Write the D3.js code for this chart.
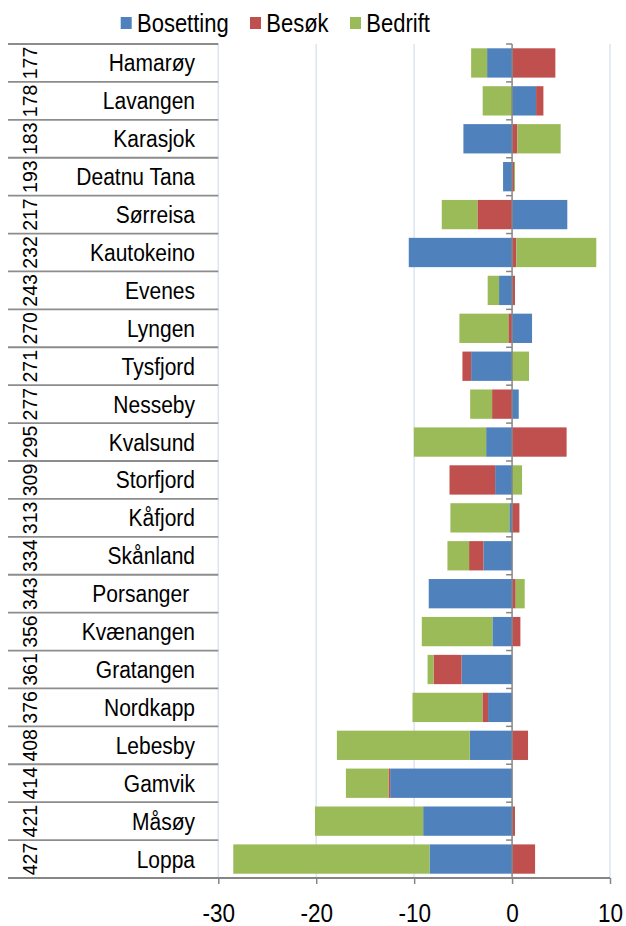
<!DOCTYPE html>
<html><head><meta charset="utf-8">
<script src="https://cdn.jsdelivr.net/npm/d3@7"></script>
<style>body{margin:0;background:#fff}svg{display:block;font-family:Arial,"Liberation Sans",sans-serif}</style>
</head><body>
<svg id="c" width="626" height="926"></svg>
<script>
const ranks = ["177","178","183","193","217","232","243","270","271","277","295","309","313","334","343","356","361","376","408","414","421","427"];
const categories = ["Hamarøy","Lavangen","Karasjok","Deatnu Tana","Sørreisa","Kautokeino","Evenes","Lyngen","Tysfjord","Nesseby","Kvalsund","Storfjord","Kåfjord","Skånland","Porsanger ","Kvænangen","Gratangen","Nordkapp","Lebesby","Gamvik","Måsøy","Loppa"];
const bosetting = [-2.55, 2.45, -4.97, -0.92, 5.64, -10.55, -1.33, 2.04, -4.18, 0.68, -2.65, -1.73, -0.28, -2.93, -8.51, -2.01, -5.16, -2.45, -4.32, -12.45, -9.08, -8.43];
const besok     = [4.42, 0.75, 0.54, 0.2, -3.54, 0.44, 0.3, -0.38, -0.89, -2.04, 5.57, -4.66, 0.75, -1.46, 0.37, 0.85, -2.86, -0.58, 1.63, -0.17, 0.3, 2.35];
const bedrift   = [-1.63, -3.0, 4.42, 0.1, -3.64, 8.16, -1.16, -5.0, 1.73, -2.24, -7.38, 1.02, -6.02, -2.21, 0.92, -7.21, -0.61, -7.14, -13.57, -4.35, -11.05, -20.04];
const seriesNames = ["Bosetting","Besøk","Bedrift"];
const seriesColors = ["#4f81bd","#c0504d","#9bbb59"];
const xTicks = [-30,-20,-10,0,10];

(function(){
const svg = d3.select("#c");
const pTop = 44, pBottom = 878, pLeft = 218.3, pRight = 610;
const sy = 1.13; // vertical text stretch seen in the reference
const x = d3.scaleLinear().domain([-30,10]).range([pLeft,pRight]);
const y = d3.scaleBand().domain(categories).range([pTop,pBottom]).paddingInner(0.227).paddingOuter(0.1135);
const bandTop = i => pTop + i*((pBottom-pTop)/categories.length);

// gridlines
svg.append("g").selectAll("line").data(xTicks.filter(d=>d!==0)).join("line")
  .attr("x1",d=>x(d)).attr("x2",d=>x(d)).attr("y1",pTop).attr("y2",pBottom)
  .attr("stroke","#dbe5f1").attr("stroke-width",1.5);

// stacked bars
const series = [bosetting,besok,bedrift];
const rows = categories.map((c,i)=>{
  let pos=0, neg=0; const segs=[];
  series.forEach((s,k)=>{
    const v=s[i];
    if(v>=0){segs.push({k,x0:pos,x1:pos+v});pos+=v;}
    else {segs.push({k,x0:neg+v,x1:neg});neg+=v;}
  });
  return {c,segs};
});
const gb = svg.append("g");
rows.forEach(r=>{
  gb.selectAll(null).data(r.segs).join("rect")
    .attr("x",d=>x(d.x0)).attr("width",d=>Math.max(0,x(d.x1)-x(d.x0)))
    .attr("y",y(r.c)).attr("height",y.bandwidth())
    .attr("fill",d=>seriesColors[d.k]);
});

// value axis at 0 with category ticks
const axCol="#868686";
svg.append("line").attr("x1",x(0)).attr("x2",x(0)).attr("y1",pTop).attr("y2",pBottom).attr("stroke",axCol).attr("stroke-width",1.5);
svg.append("g").selectAll("line").data(d3.range(categories.length)).join("line")
  .attr("x1",x(0)-6).attr("x2",x(0)).attr("y1",i=>bandTop(i)).attr("y2",i=>bandTop(i))
  .attr("stroke",axCol).attr("stroke-width",1.5);

// bottom axis
const xAxis = d3.axisBottom(x).tickValues(xTicks).tickSize(6).tickFormat(d=>d);
const gx = svg.append("g").attr("transform",`translate(0,${pBottom})`).call(xAxis);
gx.select(".domain").remove();
gx.selectAll(".tick line").attr("stroke",axCol).attr("stroke-width",1.5);
gx.selectAll(".tick text").attr("y",null).attr("dy",null).attr("transform",`translate(0,44) scale(1,${sy})`)
  .attr("font-size",22.5).attr("fill","#000").attr("font-family","Arial, 'Liberation Sans', sans-serif");
svg.append("line").attr("x1",8).attr("x2",pRight).attr("y1",pBottom).attr("y2",pBottom).attr("stroke",axCol).attr("stroke-width",1.8);

// category label grid lines
const lineCol="#8c8c8c";
svg.append("g").selectAll("line").data(d3.range(categories.length)).join("line")
  .attr("x1",8).attr("x2",pLeft).attr("y1",i=>bandTop(i)).attr("y2",i=>bandTop(i))
  .attr("stroke",lineCol).attr("stroke-width",1.8);

// category names
svg.append("g").selectAll("text").data(categories).join("text")
  .attr("transform",d=>`translate(195,${y(d)+y.bandwidth()/2+8.5}) scale(1,${sy})`)
  .attr("text-anchor","end").attr("font-size",21).attr("fill","#000")
  .style("white-space","pre").text(d=>d);

// rank labels (rotated)
svg.append("g").selectAll("text").data(ranks).join("text")
  .attr("transform",(d,i)=>`translate(37,${y(categories[i])+y.bandwidth()/2}) rotate(-90)`)
  .attr("text-anchor","middle").attr("font-size",19.5).attr("fill","#000").text(d=>d);

// legend
const legX=[120.7,250,350];
const lg = svg.append("g");
seriesNames.forEach((n,i)=>{
  lg.append("rect").attr("x",legX[i]).attr("y",17).attr("width",11).attr("height",12).attr("fill",seriesColors[i]);
  lg.append("text").attr("transform",`translate(${legX[i]+16.3},31.5) scale(1,1.16)`)
    .attr("font-size",22).attr("fill","#000").text(n);
});
})();
</script>
</body></html>
